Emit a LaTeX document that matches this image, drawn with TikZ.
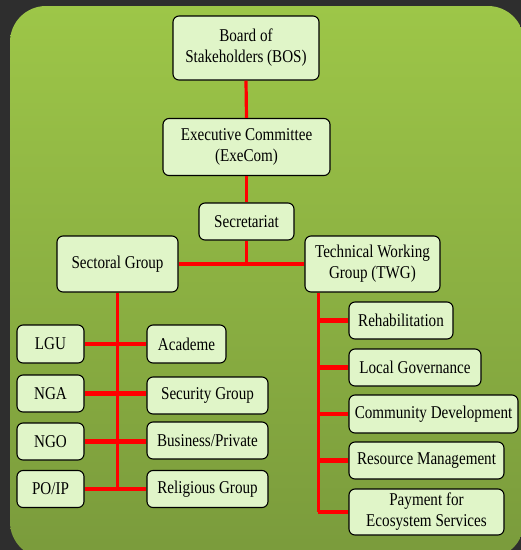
\documentclass[tikz,border=0pt]{standalone}
\usepackage{fontspec}
\setmainfont{Liberation Serif}[FakeStretch=0.84]
\begin{document}
\begin{tikzpicture}[x=1pt,y=-1pt,
  box/.style={draw=black,line width=1.1pt,rounded corners=6pt,fill=boxfill,
    align=center,inner sep=0pt,font=\fontsize{18}{21}\selectfont},
  vline/.style={draw=red,line width=3.2pt},
  hline/.style={draw=red,line width=4.2pt}]
\definecolor{boxfill}{HTML}{E0F5C8}
\definecolor{bgdark}{HTML}{2E2E2E}
\definecolor{gtop}{HTML}{9DC648}
\definecolor{gbot}{HTML}{7A9B3C}
\useasboundingbox (0,0) rectangle (521,550);
\fill[bgdark] (0,0) rectangle (521,550);
\shade[top color=gtop,bottom color=gbot,rounded corners=36pt] (10,6) rectangle (524,558);

\node[box,minimum width=146pt,minimum height=64pt] (bos) at (246,48) {Board of\\Stakeholders (BOS)};
\node[box,minimum width=167pt,minimum height=57pt] (exe) at (246.5,147) {Executive Committee\\(ExeCom)};
\node[box,minimum width=95pt,minimum height=37pt] (sec) at (246.5,221.5) {Secretariat};
\node[box,minimum width=121pt,minimum height=56pt] (sg) at (117.5,264) {Sectoral Group};
\node[box,minimum width=135pt,minimum height=56pt] (twg) at (372.5,264) {Technical Working\\Group (TWG)};

\node[box,minimum width=67pt,minimum height=38pt] (lgu) at (50.5,344) {LGU};
\node[box,minimum width=67pt,minimum height=37pt] (nga) at (50.5,393.5) {NGA};
\node[box,minimum width=67pt,minimum height=37pt] (ngo) at (50.5,441.5) {NGO};
\node[box,minimum width=67pt,minimum height=37pt] (po) at (50.5,489) {PO/IP};
\node[box,minimum width=79pt,minimum height=38pt] (aca) at (186.5,344) {Academe};
\node[box,minimum width=121pt,minimum height=37pt] (secg) at (207.5,395.5) {Security Group};
\node[box,minimum width=121pt,minimum height=37pt] (bus) at (207.5,440.5) {Business/Private};
\node[box,minimum width=121pt,minimum height=37pt] (rel) at (207.5,489) {Religious Group};

\node[box,minimum width=104pt,minimum height=37pt] (reh) at (401,320.5) {Rehabilitation};
\node[box,minimum width=132pt,minimum height=37pt] (lg) at (415,367.5) {Local Governance};
\node[box,minimum width=169pt,minimum height=38pt] (cd) at (433.5,414) {Community Development};
\node[box,minimum width=155pt,minimum height=37pt] (rm) at (426.5,460.5) {Resource Management};
\node[box,minimum width=155pt,minimum height=46pt] (pes) at (426.5,512) {Payment for\\Ecosystem Services};

\coordinate (tw) at ([xshift=14pt]twg.south west);
\coordinate (jn) at (sec.south |- sg.east);

\draw[vline] (bos.south) -- (exe.north);
\draw[vline] (exe.south) -- (sec.north);
\draw[vline] (sec.south) -- (jn);
\draw[hline] (sg.east) -- (twg.west);
\draw[vline] (sg.south) -- (sg.south |- po.east);
\draw[hline] (lgu.east) -- (aca.west);
\draw[hline] (nga.east) -- (nga.east -| secg.west);
\draw[hline] (ngo.east) -- (ngo.east -| bus.west);
\draw[hline] (po.east) -- (rel.west);
\draw[vline] (tw) -- (tw |- pes.west);
\draw[hline] (tw |- reh.west) -- (reh.west);
\draw[hline] (tw |- lg.west) -- (lg.west);
\draw[hline] (tw |- cd.west) -- (cd.west);
\draw[hline] (tw |- rm.west) -- (rm.west);
\draw[hline] (tw |- pes.west) -- (pes.west);
\end{tikzpicture}
\end{document}
